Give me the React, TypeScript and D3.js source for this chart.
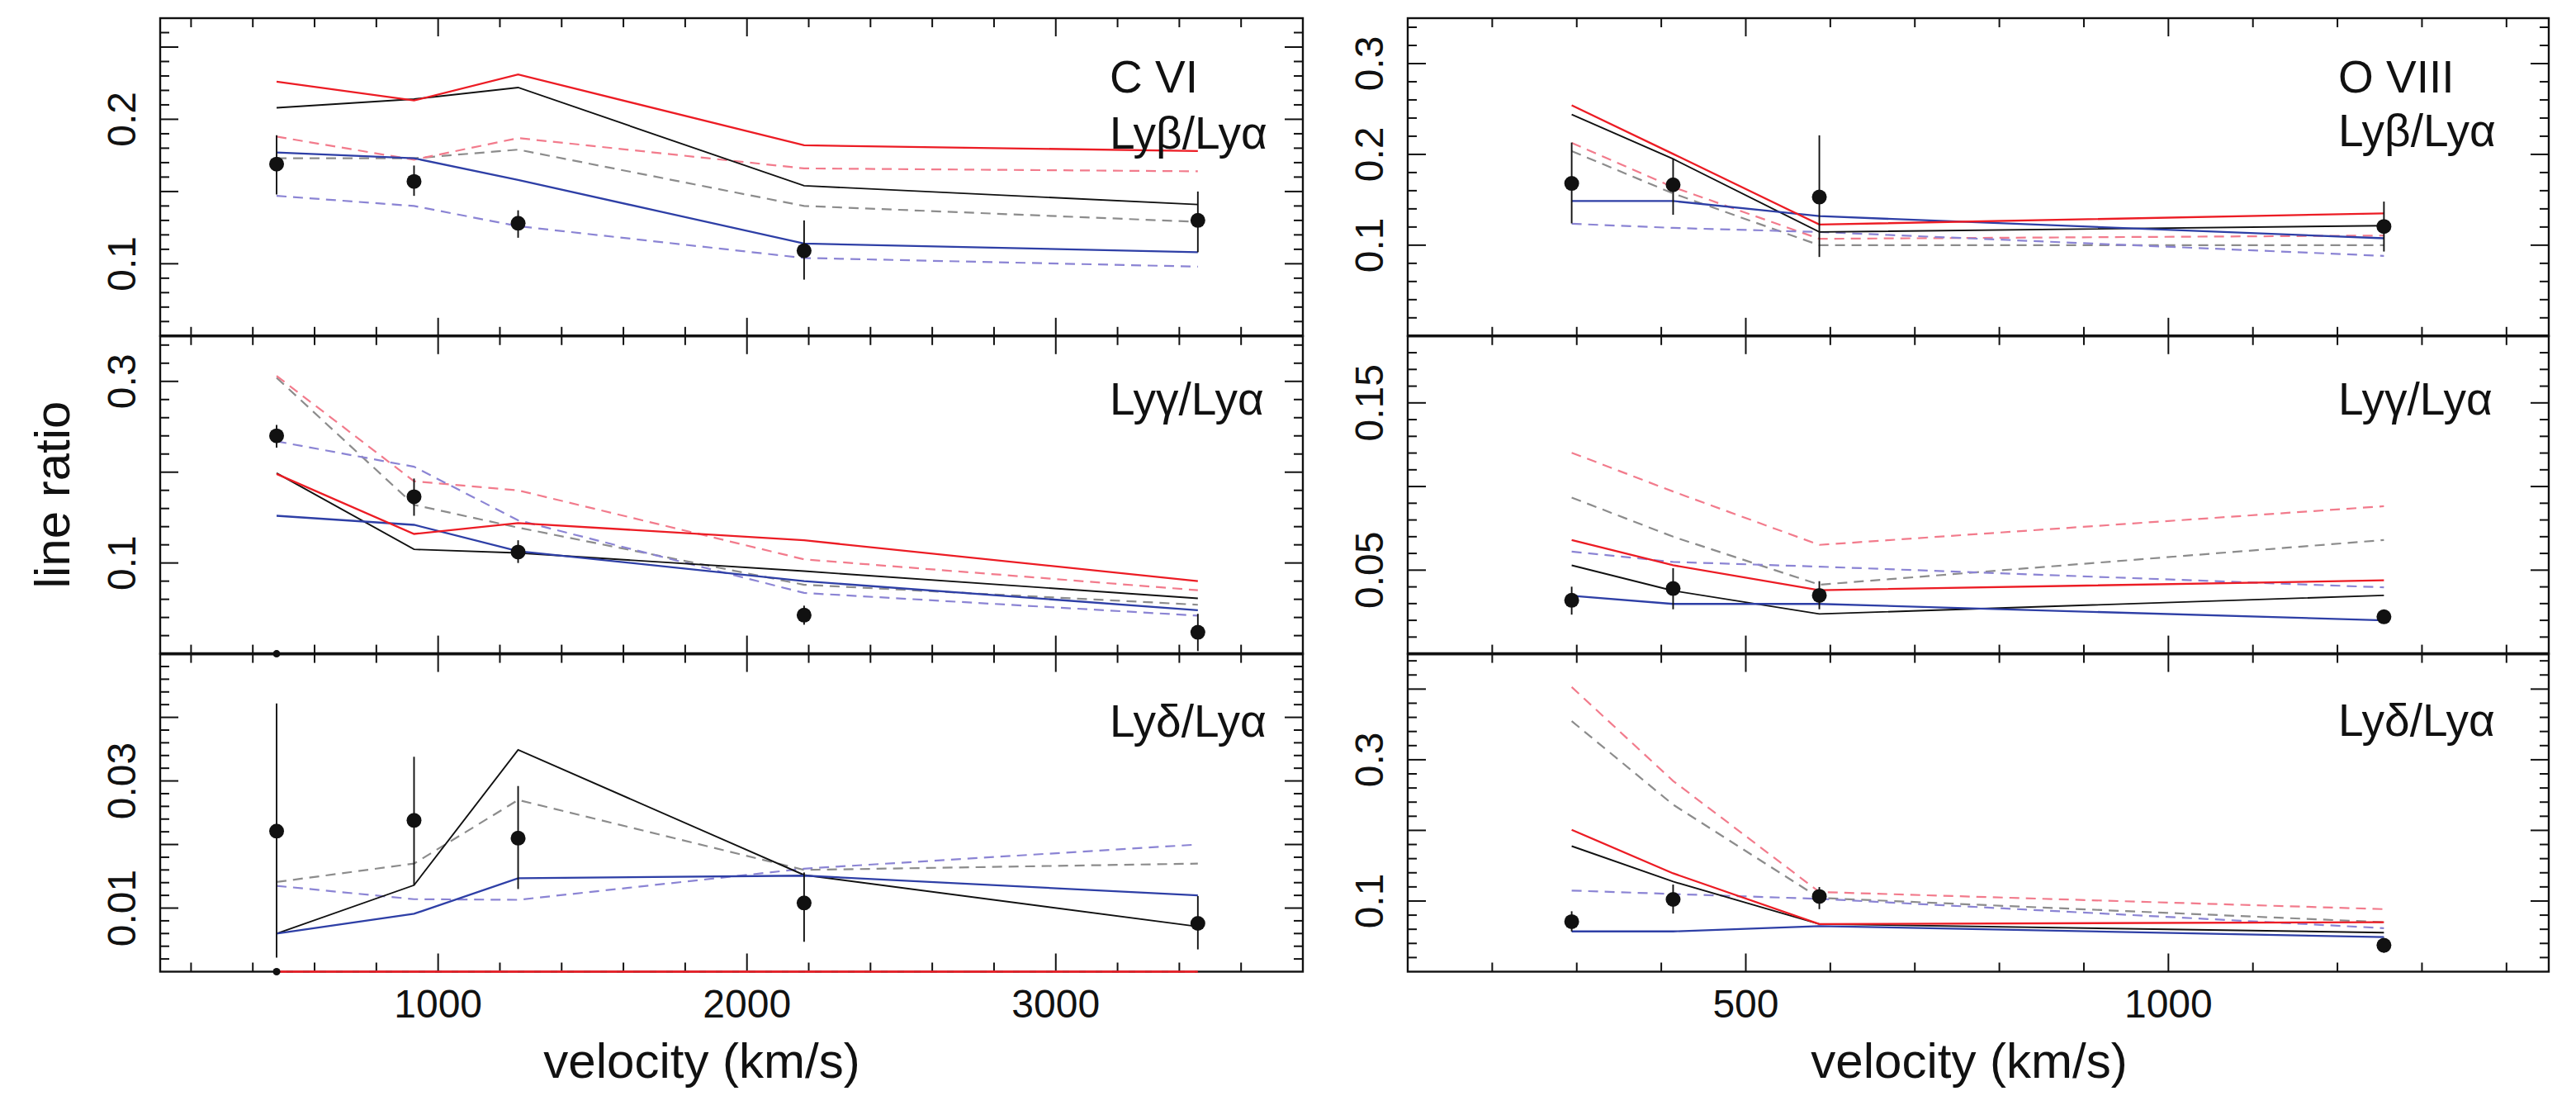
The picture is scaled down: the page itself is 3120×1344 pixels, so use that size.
import * as d3 from "d3";
import { FC } from "react";

// velocities of the data bins (km/s)
const CVI_VEL = [477, 922, 1259, 2185, 3460];
const OVIII_VEL = [294, 414, 587, 1255];

// C VI  Lyb/Lya
const CVI_B_OBS = [0.169, 0.157, 0.128, 0.109, 0.13];
const CVI_B_LO = [0.148, 0.147, 0.118, 0.089, 0.108];
const CVI_B_HI = [0.189, 0.168, 0.137, 0.13, 0.15];
const CVI_B_BLACK = [0.208, 0.214, 0.222, 0.154, 0.141];
const CVI_B_RED = [0.226, 0.213, 0.231, 0.182, 0.178];
const CVI_B_BLUE = [0.177, 0.173, 0.158, 0.114, 0.108];
const CVI_B_GRAY = [0.173, 0.173, 0.179, 0.14, 0.129];
const CVI_B_PINK = [0.188, 0.172, 0.187, 0.166, 0.164];
const CVI_B_LAV = [0.147, 0.14, 0.126, 0.104, 0.098];

// C VI  Lyg/Lya
const CVI_G_OBS = [0.24, 0.173, 0.112, 0.0425, 0.0237];
const CVI_G_LO = [0.227, 0.152, 0.1, 0.032, 0.003];
const CVI_G_HI = [0.252, 0.193, 0.125, 0.053, 0.044];
const CVI_G_BLACK = [0.199, 0.115, 0.111, 0.091, 0.061];
const CVI_G_RED = [0.198, 0.132, 0.144, 0.125, 0.08];
const CVI_G_BLUE = [0.152, 0.142, 0.113, 0.08, 0.048];
const CVI_G_GRAY = [0.304, 0.164, 0.139, 0.076, 0.054];
const CVI_G_PINK = [0.306, 0.19, 0.18, 0.104, 0.07];
const CVI_G_LAV = [0.234, 0.206, 0.147, 0.067, 0.042];

// C VI  Lyd/Lya
const CVI_D_OBS = [0.0221, 0.0238, 0.021, 0.0108, 0.0076];
const CVI_D_LO = [0.0022, 0.0136, 0.013, 0.0047, 0.0035];
const CVI_D_HI = [0.0422, 0.0338, 0.0292, 0.0156, 0.0119];
const CVI_D_BLACK = [0.006, 0.0136, 0.0349, 0.0152, 0.0071];
const CVI_D_RED = [0, 0, 0, 0, 0];
const CVI_D_BLUE = [0.006, 0.0091, 0.0147, 0.0151, 0.012];
const CVI_D_GRAY = [0.0141, 0.017, 0.027, 0.016, 0.017];
const CVI_D_PINK = [0, 0, 0, 0, 0];
const CVI_D_LAV = [0.0135, 0.0114, 0.0113, 0.0162, 0.02];

// O VIII  Lyb/Lya
const OVIII_B_OBS = [0.168, 0.1665, 0.153, 0.1206];
const OVIII_B_LO = [0.124, 0.1335, 0.087, 0.093];
const OVIII_B_HI = [0.213, 0.195, 0.221, 0.148];
const OVIII_B_BLACK = [0.244, 0.195, 0.1145, 0.1215];
const OVIII_B_RED = [0.254, 0.2005, 0.1227, 0.135];
const OVIII_B_BLUE = [0.1486, 0.1486, 0.132, 0.1076];
const OVIII_B_GRAY = [0.2036, 0.157, 0.1, 0.1];
const OVIII_B_PINK = [0.2127, 0.164, 0.107, 0.1106];
const OVIII_B_LAV = [0.1236, 0.119, 0.1145, 0.0882];

// O VIII  Lyg/Lya
const OVIII_G_OBS = [0.032, 0.039, 0.0349, 0.0221];
const OVIII_G_LO = [0.0234, 0.0266, 0.0266, 0.018];
const OVIII_G_HI = [0.0401, 0.0512, 0.0434, 0.0259];
const OVIII_G_BLACK = [0.0529, 0.0377, 0.0238, 0.0349];
const OVIII_G_RED = [0.068, 0.0529, 0.038, 0.0439];
const OVIII_G_BLUE = [0.0347, 0.0298, 0.0298, 0.02];
const OVIII_G_GRAY = [0.0934, 0.07, 0.0413, 0.068];
const OVIII_G_PINK = [0.1202, 0.097, 0.0651, 0.0882];
const OVIII_G_LAV = [0.0611, 0.0549, 0.0521, 0.0397];

// O VIII  Lyd/Lya
const OVIII_D_OBS = [0.0708, 0.1023, 0.1065, 0.0373];
const OVIII_D_LO = [0.057, 0.0822, 0.0885, 0.0268];
const OVIII_D_HI = [0.0855, 0.1233, 0.1198, 0.0457];
const OVIII_D_BLACK = [0.1777, 0.1275, 0.0674, 0.0553];
const OVIII_D_RED = [0.2008, 0.1392, 0.0674, 0.07];
const OVIII_D_BLUE = [0.057, 0.057, 0.0645, 0.049];
const OVIII_D_GRAY = [0.3547, 0.2364, 0.1044, 0.07];
const OVIII_D_PINK = [0.4029, 0.27, 0.1128, 0.0885];
const OVIII_D_LAV = [0.1148, 0.1099, 0.1031, 0.0616];

// axis tick labels
const CVI_X_LABELS = [1000, 2000, 3000];
const OVIII_X_LABELS = [500, 1000];

const FONT = "'Liberation Sans', Arial, Helvetica, sans-serif";

// drawing order: dashed first, solid on top
const STYLES = [
  { color: "#8c8c8c", dash: "12 8", width: 2.2 }, // gray
  { color: "#f27b8c", dash: "12 8", width: 2.2 }, // pink
  { color: "#8b84d4", dash: "12 8", width: 2.2 }, // lavender
  { color: "#111111", dash: undefined, width: 1.9 }, // black
  { color: "#2e3fa6", dash: undefined, width: 2.3 }, // blue
  { color: "#ec1c24", dash: undefined, width: 2.3 }, // red
];

const ticksIn = (lo: number, hi: number, step: number) =>
  d3
    .range(Math.ceil(lo / step - 1e-6), Math.floor(hi / step + 1e-6) + 1)
    .map((k) => +(k * step).toFixed(6))
    .filter((v) => v > lo + step * 1e-3 && v < hi - step * 1e-3);

const isMultiple = (v: number, step: number) =>
  Math.abs(v / step - Math.round(v / step)) < 1e-4;

interface PanelProps {
  left: number;
  right: number;
  top: number;
  bottom: number;
  xDomain: [number, number];
  xMinor: number;
  xMajor: number;
  yDomain: [number, number];
  yMinor: number;
  yMajor: number;
  yLabels: number[];
  xLabels?: number[];
  vel: number[];
  obs: number[];
  lo: number[];
  hi: number[];
  models: number[][]; // gray, pink, lav, black, blue, red
  zeroMark?: boolean;
  title: string[];
  titleX: number;
  titleY: number[];
}

const Panel: FC<PanelProps> = (p) => {
  const x = d3.scaleLinear().domain(p.xDomain).range([p.left, p.right]);
  const y = d3.scaleLinear().domain(p.yDomain).range([p.bottom, p.top]);
  const line = d3
    .line<number>()
    .x((_, i) => x(p.vel[i]))
    .y((d) => y(d));

  const xt = ticksIn(p.xDomain[0], p.xDomain[1], p.xMinor);
  const yt = ticksIn(p.yDomain[0], p.yDomain[1], p.yMinor);
  const minorLen = 11;
  const majorLen = 22;

  return (
    <g>
      <rect
        x={p.left}
        y={p.top}
        width={p.right - p.left}
        height={p.bottom - p.top}
        fill="none"
        stroke="#111"
        strokeWidth={2.4}
      />
      {xt.map((v) => {
        const len = isMultiple(v, p.xMajor) ? majorLen : minorLen;
        return (
          <g key={"x" + v} stroke="#111" strokeWidth={2}>
            <line x1={x(v)} x2={x(v)} y1={p.top} y2={p.top + len} />
            <line x1={x(v)} x2={x(v)} y1={p.bottom} y2={p.bottom - len} />
          </g>
        );
      })}
      {yt.map((v) => {
        const len = isMultiple(v, p.yMajor) ? majorLen : minorLen;
        return (
          <g key={"y" + v} stroke="#111" strokeWidth={2}>
            <line x1={p.left} x2={p.left + len} y1={y(v)} y2={y(v)} />
            <line x1={p.right} x2={p.right - len} y1={y(v)} y2={y(v)} />
          </g>
        );
      })}
      {p.yLabels.map((v) => (
        <text
          key={"yl" + v}
          transform={`translate(${p.left - 30},${y(v)}) rotate(-90)`}
          textAnchor="middle"
          fontFamily={FONT}
          fontSize={48}
          fill="#111"
        >
          {String(v)}
        </text>
      ))}
      {(p.xLabels || []).map((v) => (
        <text
          key={"xl" + v}
          x={x(v)}
          y={1232}
          textAnchor="middle"
          fontFamily={FONT}
          fontSize={48}
          fill="#111"
        >
          {String(v)}
        </text>
      ))}
      {p.models.map((m, k) => (
        <path
          key={"m" + k}
          d={line(m) || ""}
          fill="none"
          stroke={STYLES[k].color}
          strokeWidth={STYLES[k].width}
          strokeDasharray={STYLES[k].dash}
        />
      ))}
      {p.vel.map((v, i) => (
        <line
          key={"e" + i}
          x1={x(v)}
          x2={x(v)}
          y1={y(p.lo[i])}
          y2={y(p.hi[i])}
          stroke="#111"
          strokeWidth={1.9}
        />
      ))}
      {p.vel.map((v, i) => (
        <circle key={"c" + i} cx={x(v)} cy={y(p.obs[i])} r={9} fill="#111" />
      ))}
      {p.zeroMark && (
        <circle cx={x(p.vel[0])} cy={y(0)} r={4.5} fill="#111" />
      )}
      {p.title.map((t, i) => (
        <text
          key={"t" + i}
          x={p.titleX}
          y={p.titleY[i]}
          fontFamily={FONT}
          fontSize={55}
          fill="#111"
        >
          {t}
        </text>
      ))}
    </g>
  );
};

const ROWS = [22, 406.8, 791.6, 1176.5];
const LEFT_COL = [194, 1578];
const RIGHT_COL = [1705, 3087];

const App: FC = () => {
  const cvi = {
    left: LEFT_COL[0],
    right: LEFT_COL[1],
    xDomain: [100, 3800] as [number, number],
    xMinor: 200,
    xMajor: 1000,
    vel: CVI_VEL,
    titleX: 1344,
  };
  const ovi = {
    left: RIGHT_COL[0],
    right: RIGHT_COL[1],
    xDomain: [100, 1450] as [number, number],
    xMinor: 100,
    xMajor: 500,
    vel: OVIII_VEL,
    titleX: 2832,
  };

  return (
    <svg
      width={3120}
      height={1344}
      style={{ position: "absolute", left: 0, top: 0, background: "#fff" }}
    >
      <rect width={3120} height={1344} fill="#fff" />

      <Panel
        {...cvi}
        top={ROWS[0]}
        bottom={ROWS[1]}
        yDomain={[0.05, 0.27]}
        yMinor={0.01}
        yMajor={0.05}
        yLabels={[0.1, 0.2]}
        obs={CVI_B_OBS}
        lo={CVI_B_LO}
        hi={CVI_B_HI}
        models={[CVI_B_GRAY, CVI_B_PINK, CVI_B_LAV, CVI_B_BLACK, CVI_B_BLUE, CVI_B_RED]}
        title={["C VI", "Lyβ/Lyα"]}
        titleY={[112, 180]}
      />
      <Panel
        {...cvi}
        top={ROWS[1]}
        bottom={ROWS[2]}
        yDomain={[0, 0.35]}
        yMinor={0.02}
        yMajor={0.1}
        yLabels={[0.1, 0.3]}
        obs={CVI_G_OBS}
        lo={CVI_G_LO}
        hi={CVI_G_HI}
        models={[CVI_G_GRAY, CVI_G_PINK, CVI_G_LAV, CVI_G_BLACK, CVI_G_BLUE, CVI_G_RED]}
        zeroMark
        title={["Lyγ/Lyα"]}
        titleY={[502]}
      />
      <Panel
        {...cvi}
        top={ROWS[2]}
        bottom={ROWS[3]}
        yDomain={[0, 0.05]}
        yMinor={0.002}
        yMajor={0.01}
        yLabels={[0.01, 0.03]}
        xLabels={CVI_X_LABELS}
        obs={CVI_D_OBS}
        lo={CVI_D_LO}
        hi={CVI_D_HI}
        models={[CVI_D_GRAY, CVI_D_PINK, CVI_D_LAV, CVI_D_BLACK, CVI_D_BLUE, CVI_D_RED]}
        zeroMark
        title={["Lyδ/Lyα"]}
        titleY={[892]}
      />

      <Panel
        {...ovi}
        top={ROWS[0]}
        bottom={ROWS[1]}
        yDomain={[0, 0.35]}
        yMinor={0.02}
        yMajor={0.1}
        yLabels={[0.1, 0.2, 0.3]}
        obs={OVIII_B_OBS}
        lo={OVIII_B_LO}
        hi={OVIII_B_HI}
        models={[OVIII_B_GRAY, OVIII_B_PINK, OVIII_B_LAV, OVIII_B_BLACK, OVIII_B_BLUE, OVIII_B_RED]}
        title={["O VIII", "Lyβ/Lyα"]}
        titleY={[112, 177]}
      />
      <Panel
        {...ovi}
        top={ROWS[1]}
        bottom={ROWS[2]}
        yDomain={[0, 0.19]}
        yMinor={0.01}
        yMajor={0.05}
        yLabels={[0.05, 0.15]}
        obs={OVIII_G_OBS}
        lo={OVIII_G_LO}
        hi={OVIII_G_HI}
        models={[OVIII_G_GRAY, OVIII_G_PINK, OVIII_G_LAV, OVIII_G_BLACK, OVIII_G_BLUE, OVIII_G_RED]}
        title={["Lyγ/Lyα"]}
        titleY={[502]}
      />
      <Panel
        {...ovi}
        top={ROWS[2]}
        bottom={ROWS[3]}
        yDomain={[0, 0.45]}
        yMinor={0.02}
        yMajor={0.1}
        yLabels={[0.1, 0.3]}
        xLabels={OVIII_X_LABELS}
        obs={OVIII_D_OBS}
        lo={OVIII_D_LO}
        hi={OVIII_D_HI}
        models={[OVIII_D_GRAY, OVIII_D_PINK, OVIII_D_LAV, OVIII_D_BLACK, OVIII_D_BLUE, OVIII_D_RED]}
        title={["Lyδ/Lyα"]}
        titleY={[891]}
      />

      {/* heavier shared edges between stacked panels */}
      {[ROWS[1], ROWS[2]].map((r) => (
        <g key={"b" + r} stroke="#111" strokeWidth={3.6}>
          <line x1={LEFT_COL[0]} x2={LEFT_COL[1]} y1={r} y2={r} />
          <line x1={RIGHT_COL[0]} x2={RIGHT_COL[1]} y1={r} y2={r} />
        </g>
      ))}

      <text
        x={850}
        y={1305}
        textAnchor="middle"
        fontFamily={FONT}
        fontSize={60}
        fill="#111"
      >
        velocity (km/s)
      </text>
      <text
        x={2385}
        y={1305}
        textAnchor="middle"
        fontFamily={FONT}
        fontSize={60}
        fill="#111"
      >
        velocity (km/s)
      </text>
      <text
        transform="translate(84,599) rotate(-90)"
        textAnchor="middle"
        fontFamily={FONT}
        fontSize={60}
        fill="#111"
      >
        line ratio
      </text>
    </svg>
  );
};

export default App;
